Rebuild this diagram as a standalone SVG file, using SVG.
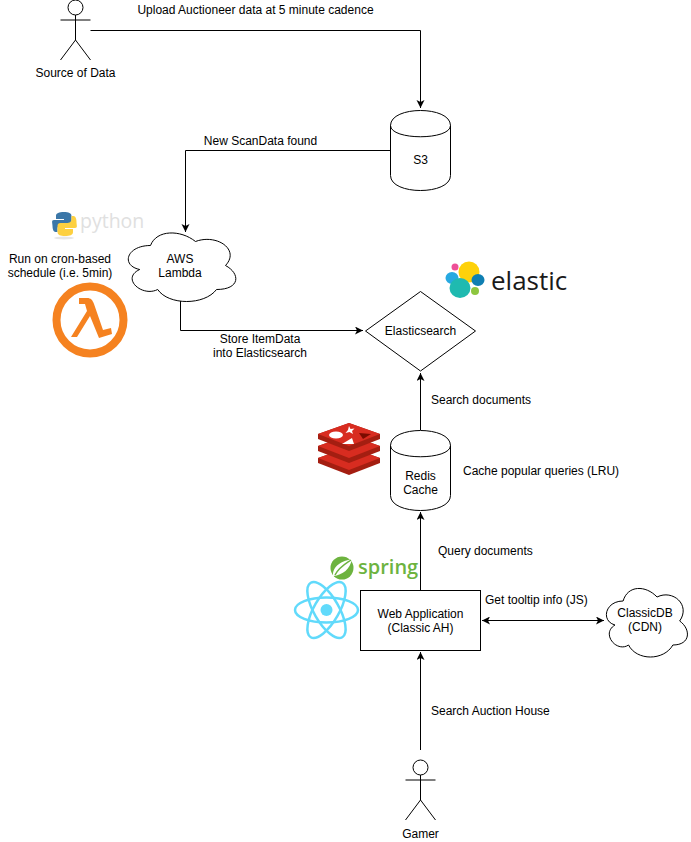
<svg xmlns="http://www.w3.org/2000/svg" width="691" height="842" viewBox="0 0 691 842">
<defs>
<marker id="arr" markerUnits="userSpaceOnUse" markerWidth="10" markerHeight="10" refX="8" refY="4" orient="auto"><path d="M0 0L8 4L0 8L2 4Z" fill="#000"/></marker>
<marker id="arrs" markerUnits="userSpaceOnUse" markerWidth="10" markerHeight="10" refX="0" refY="4" orient="auto"><path d="M8 0L0 4L8 8L6 4Z" fill="#000"/></marker>
<path id="cloud" vector-effect="non-scaling-stroke" d="M30 20C6 20 0 40 19.200 44C0 52.800 21.600 72 37.200 64C48 80 84 80 96 64C120 64 120 48 105 40C120 24 96 8 75 16C60 4 36 4 30 20Z"/>
<g id="redis-layer">
<path d="M318 434L349 423L380 434V439L349 451L318 439Z" fill="#a41e11"/>
<path d="M318 434L349 423L380 434L349 446Z" fill="#d82c20"/>
</g>
</defs>
<style>
.s{fill:#fff;stroke:#000;stroke-width:1}
.t{font-family:"Liberation Sans",Arial,sans-serif;font-size:12px;fill:#000}
.m{text-anchor:middle}
.l{fill:none;stroke:#000;stroke-width:1}
</style>
<rect width="691" height="842" fill="#fff"/>
<g id="connectors" class="l">
<path d="M90.500 30.500H420.500V108" marker-end="url(#arr)"/>
<path d="M390.500 150.500H185.500V232" marker-end="url(#arr)"/>
<path d="M180.500 301V330.500H363" marker-end="url(#arr)"/>
<path d="M420.500 430V373" marker-end="url(#arr)"/>
<path d="M420.500 590V512" marker-end="url(#arr)"/>
<path d="M420.500 750V652" marker-end="url(#arr)"/>
<path d="M482 620.500H604" marker-start="url(#arrs)" marker-end="url(#arr)"/>
</g>
<g id="source-of-data" class="l">
<circle cx="75.500" cy="7.500" r="7.500"/><path d="M75.500 15V40M60.500 20H90.500M75.500 40L60.500 60M75.500 40L90.500 60"/>
<text class="t m" x="75.500" y="77" stroke="none">Source of Data</text>
</g>
<g id="s3">
<path class="s" d="M390.500 125.500C390.500 105.500 450.500 105.500 450.500 125.500V175.500C450.500 195.500 390.500 195.500 390.500 175.500Z"/>
<path class="l" d="M390.500 125.500C390.500 140.500 450.500 140.500 450.500 125.500"/>
<text class="t m" x="420.500" y="164">S3</text>
</g>
<g id="aws-lambda">
<use href="#cloud" x="120.500" y="225.500" class="s"/>
<text class="t m" x="180" y="263">AWS</text><text class="t m" x="180" y="277">Lambda</text>
</g>
<g id="elasticsearch">
<path class="s" d="M420.500 291.500L475.500 331L420.500 371L365.500 331Z"/>
<text class="t m" x="420.500" y="335">Elasticsearch</text>
</g>
<g id="redis-cache">
<path class="s" d="M390.500 445.500C390.500 425.500 450.500 425.500 450.500 445.500V495.500C450.500 515.500 390.500 515.500 390.500 495.500Z"/>
<path class="l" d="M390.500 445.500C390.500 460.500 450.500 460.500 450.500 445.500"/>
<text class="t m" x="420.500" y="480">Redis</text><text class="t m" x="420.500" y="494">Cache</text>
</g>
<g id="web-application">
<rect class="s" x="360.500" y="590.500" width="120" height="60"/>
<text class="t m" x="420.500" y="618">Web Application</text><text class="t m" x="420.500" y="632">(Classic AH)</text>
</g>
<g id="classicdb">
<use href="#cloud" transform="translate(600.500 581) scale(.754 1)" class="s"/>
<text class="t m" x="645" y="617">ClassicDB</text><text class="t m" x="645" y="631">(CDN)</text>
</g>
<g id="gamer" class="l">
<circle cx="420.500" cy="767.500" r="7.500"/><path d="M420.500 775V800M405.500 780H435.500M420.500 800L405.500 820M420.500 800L435.500 820"/>
<text class="t m" x="420.500" y="838" stroke="none">Gamer</text>
</g>
<g id="labels">
<text class="t m" x="255.500" y="14">Upload Auctioneer data at 5 minute cadence</text>
<text class="t m" x="260.500" y="145">New ScanData found</text>
<text class="t m" x="60" y="263">Run on cron-based</text>
<text class="t m" x="60" y="277">schedule (i.e. 5min)</text>
<text class="t m" x="260" y="343">Store ItemData</text>
<text class="t m" x="260" y="357">into Elasticsearch</text>
<text class="t" x="431" y="404">Search documents</text>
<text class="t" x="463" y="475">Cache popular queries (LRU)</text>
<text class="t" x="438" y="555">Query documents</text>
<text class="t" x="485" y="604">Get tooltip info (JS)</text>
<text class="t" x="431" y="715">Search Auction House</text>
</g>
<g id="python-logo">
<path d="M64 212c-5 0-8 1-8 4v3h8v1H54c-3 0-1.500 3-1.500 6s1 6 3 6h2v-3c0-3 2-4 5-4h6c2 0 3-1 3-3v-6c0-3-3-4-7.500-4z" fill="#3b77a8"/>
<path d="M65 236c5 0 8-1 8-4v-3h-8v-1h10c3 0 1.500-3 1.500-6s-1-6-3-6h-2v3c0 3-2 4-5 4h-6c-2 0-3 1-3 3v6c0 3 3 4 7.500 4z" fill="#fdd040"/>
<ellipse cx="64" cy="238" rx="10" ry="1.500" fill="#e6e6e6"/>
<text x="80" y="228" font-family="'Open Sans','DejaVu Sans',sans-serif" font-size="19.500" fill="#e0e0e0">python</text>
</g>
<g id="lambda-logo">
<circle cx="90" cy="320" r="33.500" fill="#fff" stroke="#f58220" stroke-width="8"/>
<path d="M79 298H87C91 298 92.500 300 94 304L103 330L111 328L112 334L99 338L90 316L77 337H71L87 311L85 304H79Z" fill="#f58220"/>
</g>
<g id="elastic-logo">
<circle cx="469" cy="272" r="10.500" fill="#fed10a"/>
<circle cx="455" cy="267" r="3.500" fill="#ee5097"/>
<ellipse cx="452" cy="278" rx="6.500" ry="6" fill="#27a9e1"/>
<ellipse cx="478" cy="280" rx="6.500" ry="6" fill="#0f7fb2"/>
<ellipse cx="460" cy="288" rx="10.500" ry="10" fill="#1fbab0"/>
<ellipse cx="475" cy="291" rx="4" ry="4" fill="#8dc63f"/>
<text x="491" y="290" font-family="'Open Sans','DejaVu Sans',sans-serif" font-size="26" fill="#1a1a1a">elastic</text>
</g>
<g id="redis-logo">
<use href="#redis-layer" y="24"/>
<use href="#redis-layer" y="12"/>
<use href="#redis-layer"/>
<ellipse cx="336" cy="435" rx="7" ry="3.500" fill="#fff"/>
<path d="M349 426l1.500 3 4-.5-2.500 2.500 1 3-3.500-2-4 1 2.500-3z" fill="#fff"/>
<path d="M342 444L352 438L354 444Z" fill="#fff"/>
<path d="M359 433L371 434L363 439Z" fill="#7a0c00"/>
</g>
<g id="spring-logo">
<circle cx="342" cy="568" r="11.500" fill="#6db33f"/>
<path d="M333 576C332 566 342 561 352 559C350 569 343 575 333 576Z" fill="#fff"/>
<path d="M335 575C339 567 345 564 351 560" fill="none" stroke="#6db33f" stroke-width="1.500"/>
<text x="358" y="574" font-family="'Open Sans','DejaVu Sans',sans-serif" font-size="20" font-weight="600" fill="#6db33f">spring</text>
</g>
<g id="react-logo" fill="none" stroke="#61dafb" stroke-width="2.500">
<circle cx="326.500" cy="610" r="6" fill="#61dafb" stroke="none"/>
<ellipse cx="326.500" cy="610" rx="31.500" ry="12.500"/>
<ellipse cx="326.500" cy="610" rx="31.500" ry="12.500" transform="rotate(60 326.500 610)"/>
<ellipse cx="326.500" cy="610" rx="31.500" ry="12.500" transform="rotate(120 326.500 610)"/>
</g>
</svg>
